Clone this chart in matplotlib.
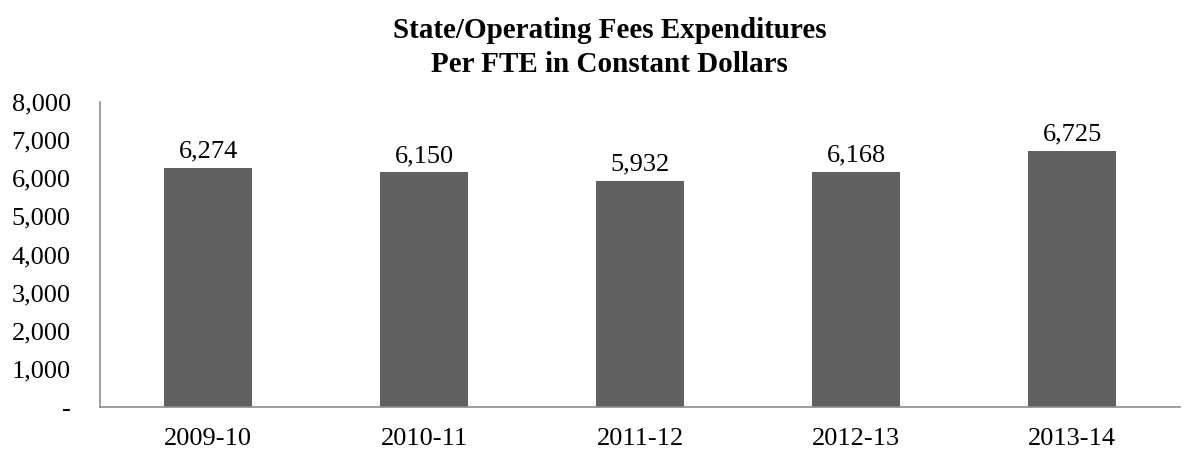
import matplotlib
matplotlib.use('Agg')
import matplotlib.pyplot as plt
from matplotlib.ticker import FuncFormatter

years = ['2009-10', '2010-11', '2011-12', '2012-13', '2013-14']
expend = [6274, 6150, 5932, 6168, 6725]

plt.rcParams['font.family'] = ['Liberation Serif', 'DejaVu Serif']

fig = plt.figure(figsize=(11.98, 4.53), dpi=100)
ax = fig.add_axes([0.0835, 0.1015, 0.9015, 0.6735])

x = range(len(years))
ax.bar(x, expend, width=0.41, color='#616161', zorder=2)
for xi, v in zip(x, expend):
    ax.text(xi, v + 270, f'{v:,}', ha='center', va='baseline', fontsize=19)

ax.set_xlim(-0.5, len(years) - 0.5)
ax.set_ylim(0, 8000)
ax.set_yticks(range(0, 8001, 1000))
ax.yaxis.set_major_formatter(FuncFormatter(lambda v, p: '-' if v == 0 else f'{int(v):,}'))
ax.set_xticks(list(x))
ax.set_xticklabels(years)
ax.tick_params(axis='both', length=0, labelsize=19)
ax.tick_params(axis='x', pad=15)
ax.tick_params(axis='y', pad=21)

for s in ['top', 'right']:
    ax.spines[s].set_visible(False)
for s in ['left', 'bottom']:
    ax.spines[s].set_color('#8c8c8c')
    ax.spines[s].set_linewidth(1.2)

fig.text(0.509, 0.895, 'State/Operating Fees Expenditures\nPer FTE in Constant Dollars',
         ha='center', va='center', fontsize=21, fontweight='bold', linespacing=1.3)

fig.savefig('out.png', dpi=100)
